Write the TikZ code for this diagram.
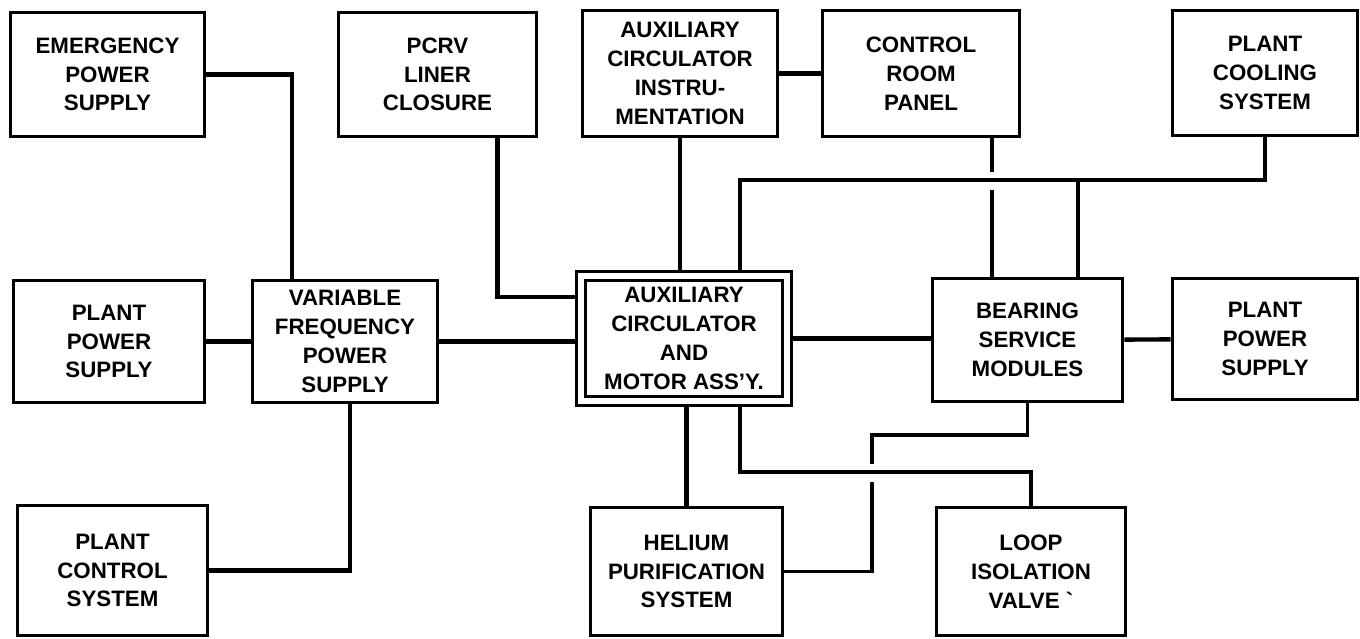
\documentclass[tikz,border=0pt]{standalone}
\usepackage{fontspec}
\setmainfont{Liberation Sans}
\usetikzlibrary{calc}
\tikzset{
  unit/.style={
    draw, rectangle, line width=1.7pt, align=center, inner sep=0mm,
    font=\bfseries\fontsize{12.7}{16.4}\selectfont
  },
  mainunit/.style={
    unit, double, double distance=3.4pt, outer sep=3.4pt
  },
  conn/.style={
    line width=2.5pt
  },
  bus/.style={
    line width=2pt
  }
}

\begin{document}
\begin{tikzpicture}[x=0.02cm, y=-0.02cm]
   \useasboundingbox (0,0) rectangle (1360,639);

   % top row
   \node[unit, minimum width=3.9cm, minimum height=2.5cm] (emer) at (107.5,74.5) {EMERGENCY\\POWER\\SUPPLY};
   \node[unit, minimum width=3.98cm, minimum height=2.5cm] (pcrv) at (437.5,74.5) {PCRV\\LINER\\CLOSURE};
   \node[unit, minimum width=3.92cm, minimum height=2.54cm] (instr) at (680,73.5) {AUXILIARY\\CIRCULATOR\\INSTRU-\\MENTATION};
   \node[unit, minimum width=3.96cm, minimum height=2.54cm] (crp) at (921,73.5) {CONTROL\\ROOM\\PANEL};
   \node[unit, minimum width=3.72cm, minimum height=2.52cm] (cool) at (1265,73) {PLANT\\COOLING\\SYSTEM};

   % middle row
   \node[unit, minimum width=3.84cm, minimum height=2.46cm] (ppsl) at (109,341.5) {PLANT\\POWER\\SUPPLY};
   \node[unit, minimum width=3.72cm, minimum height=2.46cm] (vfps) at (345,341.5) {VARIABLE\\FREQUENCY\\POWER\\SUPPLY};
   \node[mainunit, minimum width=4.12cm, minimum height=2.5cm] (acm) at (684,338.5) {AUXILIARY\\CIRCULATOR\\AND\\MOTOR ASS'Y.};
   \node[unit, minimum width=3.82cm, minimum height=2.48cm] (bsm) at (1027.5,340) {BEARING\\SERVICE\\MODULES};
   \node[unit, minimum width=3.72cm, minimum height=2.44cm] (ppsr) at (1265,339) {PLANT\\POWER\\SUPPLY};

   % bottom row
   \node[unit, minimum width=3.82cm, minimum height=2.62cm] (pcs) at (112.5,570.5) {PLANT\\CONTROL\\SYSTEM};
   \node[unit, minimum width=3.86cm, minimum height=2.58cm] (hel) at (686.5,571.5) {HELIUM\\PURIFICATION\\SYSTEM};
   \node[unit, minimum width=3.8cm, minimum height=2.58cm] (liv) at (1031,571.5) {LOOP\\ISOLATION\\VALVE \textasciigrave};

   % taps and buses
   \coordinate (vfpstop) at ($(vfps.north)+(-53,0)$);
   \coordinate (vfpsbot) at ($(vfps.south)+(5,0)$);
   \coordinate (pcrvtap) at ($(pcrv.south)+(60,0)$);
   \coordinate (acmleft) at ($(acm.west)+(0,-41.5)$);
   \coordinate (crptap) at ($(crp.south)+(71,0)$);
   \coordinate (bsmtap) at ($(bsm.north)+(50.5,0)$);
   \coordinate (coolbus) at (740,180);
   \coordinate (valvebus) at (740,472);
   \coordinate (heliumbus) at (872,435);

   % left side
   \draw[conn] (emer.east) -| (vfpstop);
   \draw[conn] (ppsl) -- (vfps);
   \draw[conn] (vfps.east) -- (vfps.east -| acm.west);
   \draw[conn] (pcs.east) -| (vfpsbot);
   \draw[conn] (pcrvtap) |- (acmleft);

   % top
   \draw[conn] (instr.south) -- (instr.south |- acm.north);
   \draw[conn] (instr) -- (crp);
   \draw[bus] (cool.south) |- (coolbus) -- (coolbus |- acm.north);
   \draw[bus] (bsmtap) -- (bsmtap |- coolbus);
   \draw[conn] (crptap) -- ($(crptap |- coolbus)+(0,-8)$);
   \draw[conn] ($(crptap |- coolbus)+(0,10)$) -- (crptap |- bsm.north);

   % right side
   \draw[conn] (acm.east) -- (acm.east -| bsm.west);
   \draw[conn] (bsm) -- (ppsr);

   % bottom
   \draw[conn] (hel.north) -- (hel.north |- acm.south);
   \draw[bus] (valvebus |- acm.south) -- (valvebus) -| (liv.north);
   \draw[bus] (bsm.south) |- (heliumbus) -- ($(heliumbus |- valvebus)+(0,-8)$);
   \draw[bus] ($(heliumbus |- valvebus)+(0,10)$) -- (heliumbus |- hel.east) -- (hel.east);
\end{tikzpicture}
\end{document}
